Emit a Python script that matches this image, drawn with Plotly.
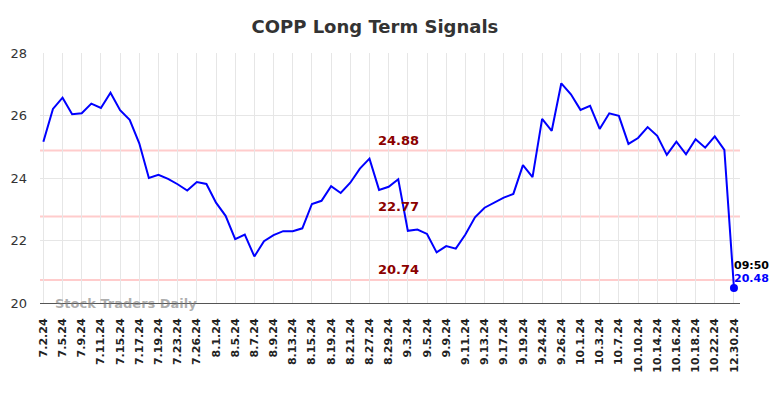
import plotly.graph_objects as go

dates = ["7.2.24","7.3.24","7.5.24","7.8.24","7.9.24","7.10.24","7.11.24","7.12.24","7.15.24","7.16.24",
         "7.17.24","7.18.24","7.19.24","7.22.24","7.23.24","7.25.24","7.26.24","7.30.24","8.1.24","8.2.24",
         "8.5.24","8.6.24","8.7.24","8.8.24","8.9.24","8.12.24","8.13.24","8.14.24","8.15.24","8.16.24",
         "8.19.24","8.20.24","8.21.24","8.23.24","8.27.24","8.28.24","8.29.24","8.30.24","9.3.24","9.4.24",
         "9.5.24","9.6.24","9.9.24","9.10.24","9.11.24","9.12.24","9.13.24","9.16.24","9.17.24","9.18.24",
         "9.19.24","9.23.24","9.24.24","9.25.24","9.26.24","9.30.24","10.1.24","10.2.24","10.3.24","10.4.24",
         "10.7.24","10.9.24","10.10.24","10.11.24","10.14.24","10.15.24","10.16.24","10.17.24","10.18.24","10.21.24",
         "10.22.24","10.23.24","12.30.24"]

prices = [25.16,26.21,26.57,26.04,26.07,26.38,26.24,26.73,26.17,25.86,
          25.11,24.00,24.10,23.97,23.80,23.60,23.87,23.81,23.21,22.79,
          22.04,22.19,21.49,21.98,22.17,22.30,22.30,22.39,23.17,23.27,
          23.74,23.52,23.85,24.30,24.62,23.62,23.72,23.96,22.31,22.35,
          22.21,21.62,21.82,21.74,22.19,22.74,23.05,23.20,23.37,23.49,
          24.41,24.03,25.89,25.51,27.03,26.68,26.18,26.31,25.57,26.07,
          25.99,25.09,25.28,25.63,25.35,24.74,25.16,24.76,25.24,24.97,
          25.33,24.90,20.48]

levels = [24.88, 22.77, 20.74]
level_labels = ["24.88", "22.77", "20.74"]
yticks = [20, 22, 24, 26, 28]
last_time = "09:50"
title = "COPP Long Term Signals"
watermark = "Stock Traders Daily"

tick_dates = dates[::2]

fig = go.Figure()
fig.add_trace(go.Scatter(x=dates, y=prices, mode="lines",
                         line=dict(color="#0000ff", width=2), hoverinfo="skip"))
fig.add_trace(go.Scatter(x=[dates[-1]], y=[prices[-1]], mode="markers",
                         marker=dict(color="#0000ff", size=8), hoverinfo="skip"))

for lv, lb in zip(levels, level_labels):
    fig.add_shape(type="line", xref="paper", x0=0, x1=1, yref="y", y0=lv, y1=lv,
                  line=dict(color="#ffcccc", width=2), layer="below")
    fig.add_annotation(x=dates[37], y=lv, text="<b>" + lb + "</b>", showarrow=False,
                       yshift=10, font=dict(family="DejaVu Sans", size=13, color="#8b0000"))

fig.add_annotation(x=dates[-1], y=prices[-1], text="<b>" + last_time + "</b>", showarrow=False,
                   xanchor="left", xshift=-2, yshift=23,
                   font=dict(family="DejaVu Sans", size=11, color="#000000"))
fig.add_annotation(x=dates[-1], y=prices[-1], text="<b>" + f"{prices[-1]:.2f}" + "</b>", showarrow=False,
                   xanchor="left", xshift=-2, yshift=10,
                   font=dict(family="DejaVu Sans", size=11, color="#0000ff"))
fig.add_annotation(xref="paper", yref="paper", x=0.018, y=0.0, text="<b>" + watermark + "</b>",
                   showarrow=False, xanchor="left", yanchor="middle",
                   font=dict(family="DejaVu Sans", size=13, color="rgba(120,120,120,0.6)"))

fig.update_layout(
    width=784, height=398,
    margin=dict(l=32, r=52, t=45, b=103),
    paper_bgcolor="white", plot_bgcolor="white",
    showlegend=False,
    title=dict(text="<b>" + title + "</b>", x=0.468, xanchor="center", y=0.952, yanchor="middle",
               font=dict(family="DejaVu Sans", size=18, color="#333333")),
    xaxis=dict(type="category", categoryorder="array", categoryarray=dates,
               range=[-0.35, 72.63], tickmode="array", tickvals=tick_dates, ticktext=tick_dates,
               tickangle=-90, showgrid=True, gridcolor="#e6e6e6", gridwidth=1,
               showline=True, linecolor="#555555", linewidth=1, zeroline=False,
               ticks="", ticklabelstandoff=10, automargin=False,
               tickfont=dict(family="DejaVu Sans", size=11, color="#222222", weight="bold")),
    yaxis=dict(range=[20, 28], tickvals=yticks, showgrid=True, gridcolor="#e6e6e6", gridwidth=1,
               zeroline=False, showline=False, ticks="", ticklabelstandoff=12, automargin=False,
               tickfont=dict(family="DejaVu Sans", size=13, color="#333333")),
)

fig.write_html("out.html")
